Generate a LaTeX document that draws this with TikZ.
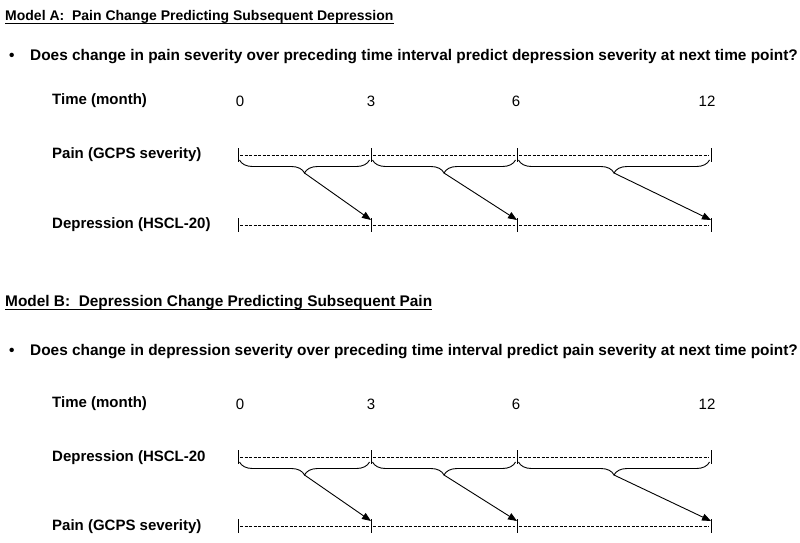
\documentclass[tikz,border=0pt]{standalone}
\usepackage{fontspec}
\setmainfont{Liberation Sans}
\usetikzlibrary{decorations.pathreplacing,arrows.meta,calc}
\newcommand\mymodel[3]{%
  \foreach \k/\x in {0/238,3/371,6/517,12/711}{%
    \coordinate (#1u\k) at (\x,#2);
    \coordinate (#1l\k) at (\x,#3);
    \draw[tickl] ($(#1u\k)+(0,-7)$) -- ($(#1u\k)+(0,7)$);
    \draw[tickl] ($(#1l\k)+(0,-7)$) -- ($(#1l\k)+(0,7)$);
  }
  \foreach \a/\b in {0/3,3/6,6/12}{%
    \draw[dline] ($(#1u\a)+(2,0)$) -- ($(#1u\b)+(-2,0)$);
    \draw[dline] ($(#1l\a)+(2,0)$) -- ($(#1l\b)+(-2,0)$);
    \draw[bracel] ($(#1u\a)+(1.5,5)$) -- ($(#1u\b)+(-1.5,5)$);
    \coordinate (#1t\a) at ($(#1u\a)!0.5!(#1u\b)+(0,18)$);
    \draw[arr] (#1t\a) -- ($(#1l\b)+(0,-5)$);
  }
}
\begin{document}
\begin{tikzpicture}[x=1pt,y=-1pt,
  lbl/.style={anchor=west,font=\fontsize{15}{18}\selectfont\bfseries,inner sep=0},
  num/.style={font=\fontsize{15}{18}\selectfont,inner sep=0},
  qtxt/.style={anchor=west,font=\fontsize{15.4}{18}\selectfont\bfseries,inner sep=0},
  dline/.style={line width=0.8pt,dash pattern=on 3pt off 1.5pt},
  tickl/.style={line width=0.9pt},
  bracel/.style={line width=0.9pt,decorate,decoration={brace,mirror,amplitude=13pt}},
  arr/.style={line width=0.9pt,-{Triangle[length=9pt,width=7pt]}},
  uline/.style={line width=1.2pt}]
\useasboundingbox (0,0) rectangle (800,542);
% ---------- Model A ----------
\node[anchor=base west,inner sep=0,font=\fontsize{14}{17}\selectfont\bfseries] (tA) at (5,20) {Model A:\ \ Pain Change Predicting Subsequent Depression};
\draw[uline] ([yshift=-3.5pt]tA.base west) -- ([yshift=-3.5pt]tA.base east);
\node[qtxt] (bulA) at (9,57) {•};
\node[qtxt] (qA) at (30,57) {Does change in pain severity over preceding time interval predict depression severity at next time point?};
\node[lbl] (timeA) at (52,101) {Time (month)};
\node[num] (nA0) at (240,101) {0};
\node[num] (nA3) at (371,101) {3};
\node[num] (nA6) at (516,101) {6};
\node[num] (nA12) at (707,101) {12};
\node[lbl] (painA) at (52,155) {Pain (GCPS severity)};
\node[lbl] (depA) at (52,225) {Depression (HSCL-20)};
\mymodel{A}{155}{225}
% ---------- Model B ----------
\node[anchor=base west,inner sep=0,font=\fontsize{15.4}{18}\selectfont\bfseries] (tB) at (5,306) {Model B:\ \ Depression Change Predicting Subsequent Pain};
\draw[uline] ([yshift=-3.5pt]tB.base west) -- ([yshift=-3.5pt]tB.base east);
\node[qtxt] (bulB) at (9,352) {•};
\node[qtxt] (qB) at (30,352) {Does change in depression severity over preceding time interval predict pain severity at next time point?};
\node[lbl] (timeB) at (52,404) {Time (month)};
\node[num] (nB0) at (240,404) {0};
\node[num] (nB3) at (371,404) {3};
\node[num] (nB6) at (516,404) {6};
\node[num] (nB12) at (707,404) {12};
\node[lbl] (depB) at (52,458) {Depression (HSCL-20};
\node[lbl] (painB) at (52,527) {Pain (GCPS severity)};
\mymodel{B}{457}{526}
\end{tikzpicture}
\end{document}
